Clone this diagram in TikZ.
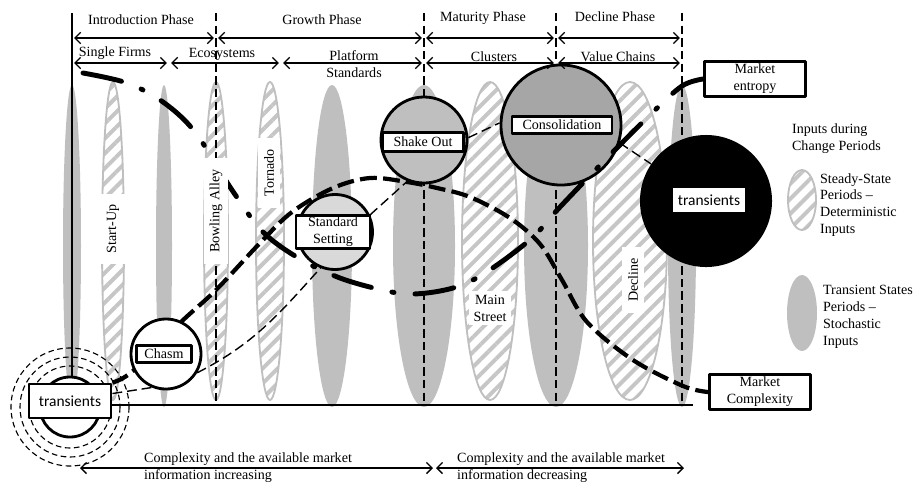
\documentclass[tikz,border=0pt]{standalone}
\usepackage{fontspec}
\setmainfont{Liberation Serif}
\newfontfamily\boxfont{Carlito}
\usetikzlibrary{arrows.meta,patterns.meta,positioning,calc}
\pgfdeclarelayer{background}
\pgfdeclarelayer{curves}
\pgfsetlayers{background,curves,main}

\begin{document}
\begin{tikzpicture}[x=0.025cm, y=-0.025cm,
       >={Straight Barb[length=4pt,width=8pt]}, line join=round,
       every node/.style={font=\fontsize{10}{12}\selectfont, inner sep=2pt},
       transient/.style={fill=gray!50},
       steady/.style={draw=gray!50, line width=1.3pt, preaction={fill=white},
                      pattern={Lines[angle=45,distance=7.5pt,line width=2.8pt]},
                      pattern color=gray!45},
       spanarrow/.style={<->, line width=0.9pt},
       phaseline/.style={line width=1.6pt, dash pattern=on 6pt off 3pt},
       ringline/.style={line width=0.8pt, dash pattern=on 4pt off 2.5pt},
       stage/.style={circle, draw, line width=2pt},
       stagebox/.style={draw, line width=2pt, fill=white, inner sep=1pt, align=center},
       marketbox/.style={draw, line width=2pt, fill=white, minimum width=25.3mm,
                         minimum height=8.8mm, align=center},
       sidelabel/.style={rotate=90, fill=white, inner xsep=8pt, inner ysep=4pt},
       cplxline/.style={line width=3pt, dash pattern=on 12pt off 4.5pt},
       entline/.style={line width=3.5pt, line cap=round,
                       dash pattern=on 28pt off 15pt on 1.5pt off 15pt},
       link/.style={line width=1pt, dash pattern=on 7pt off 3.5pt}]

	\useasboundingbox (0,0) rectangle (913,482);

	%% Phase boundaries (tops, bottoms and the two rows of spans)
	\foreach \x [count=\i] in {72,216,424,556,682}
		{\coordinate (top\i) at (\x,13);
		 \coordinate (bot\i) at (\x,405);
		 \coordinate (ph\i) at (\x,38);}
	\foreach \x [count=\i] in {72,169,281,424,556,682}
		{\coordinate (st\i) at (\x,63);}
	\coordinate (baseend) at (693,405);

	%% Transients at the start
	\node[stage, fill=white, minimum size=15mm] (startcirc) at (70,407) {};
	\foreach \r in {41,50,59}
		{\draw[ringline] (startcirc.center) circle [radius=\r];}
	\node[marketbox, minimum width=20.5mm, minimum height=8.5mm,
	      font=\boxfont\fontsize{11}{13}\selectfont] (startbox) at (70,401) {transients};

	%% Stages of the market
	\node[stage, fill=white, minimum size=17.5mm] (chasm) at (166,354) {};
	\node[stage, fill=gray!30, minimum size=18.75mm] (stdset) at (335,232) {};
	\node[stage, fill=gray!50, minimum size=21.5mm] (shakeout) at (424,140) {};
	\node[stage, fill=gray!70, minimum size=30mm] (consol) at (561,125) {};
	\node[circle, fill=black, minimum size=33mm] (endcirc) at (706,201) {};

	\node[stagebox, minimum width=13.8mm, minimum height=4.1mm] (chasmbox) at (164,354) {Chasm};
	\node[stagebox, minimum width=18.5mm, minimum height=8.1mm] (stdsetbox) at (333,232) {Standard\\Setting};
	\node[stagebox, minimum width=20.3mm, minimum height=4.6mm] (shakeoutbox) at (423,142) {Shake Out};
	\node[stagebox, minimum width=25mm, minimum height=4.3mm] (consolbox) at (562,125) {Consolidation};
	\node[fill=white, minimum width=18mm, minimum height=6.2mm,
	      font=\boxfont\fontsize{11}{13}\selectfont] (endbox) at (709,200) {transients};

	%% Curve labels
	\node[marketbox] (entropy) at (755,79) {Market\\entropy};
	\node[marketbox] (complexity) at (760,392) {Market\\Complexity};

	%% Input periods and boundaries behind everything
	\begin{pgfonlayer}{background}
		\foreach \cx/\hw in {113/11,216/12,270/14,490/28,630/37}
			{\draw[steady] (\cx,241) ellipse [x radius=\hw, y radius=159];}
		\foreach \cx/\hw in {72/9,164/8,332/20,424/31,556/32,682/14}
			{\fill[transient] (\cx,246) ellipse [x radius=\hw, y radius=161];}
		\draw[line width=2pt] (top1) -- (top1 |- startcirc.north);
		\foreach \i in {2,...,5}
			{\draw[phaseline] (top\i) -- (bot\i);}
		\draw[line width=1.5pt] (startbox.east |- bot1) -- (baseend);
	\end{pgfonlayer}

	%% Market complexity and the path of the stages
	\begin{pgfonlayer}{curves}
		\draw[cplxline] plot[smooth, tension=0.55] coordinates {(startbox.north east)
			(133,371) (180,323) (216,290) (260,243) (292,212) (333,188) (370,178)
			(407,182) (437,188) (470,197) (510,218) (540,244) (562,280) (587,322)
			(633,360) (683,386) (complexity.west)};
		\draw[link] (startbox.10) -- (chasm.247);
		\draw[link] (chasm.-31) to[out=27, in=228] (stdset.248);
		\draw[link] (stdset.26) -- (shakeout.248);
		\draw[link] (shakeout.3) -- (consol.178);
		\draw[link] (consol.-17) -- (endcirc.146);
	\end{pgfonlayer}

	%% Market entropy
	\coordinate (entstart) at (83,73);
	\draw[entline] plot[smooth, tension=0.55] coordinates {(entstart)
		(127,83) (163,102) (195,132) (232,190) (263,232) (300,259) (340,278)
		(382,290) (410,294) (440,291) (467,283) (497,265) (533,237) (560,207)
		(607,158) (652,113) (682,86) (entropy.west)};

	%% Names of the periods
	\node[sidelabel] (startup) at (113,229) {Start-Up};
	\node[sidelabel] (bowling) at (216,211) {Bowling Alley};
	\node[sidelabel] (tornado) at (269,173) {Tornado};
	\node[sidelabel] (declinelabel) at (633,280) {Decline};
	\node[fill=white, align=center, inner sep=3pt] (mainstreet) at (490,308) {Main\\Street};

	%% Phases and market structures
	\foreach \i [remember=\i as \last (initially 1)] in {2,...,5}
		{\draw[spanarrow, shorten <=1.5pt, shorten >=1.5pt] (ph\last) -- (ph\i);}
	\foreach \i [remember=\i as \last (initially 1)] in {2,...,6}
		{\draw[spanarrow, shorten <=1.5pt, shorten >=1.5pt] (st\last) -- (st\i);}
	\node (intro) at (141,20) {Introduction Phase};
	\node (growth) at (322,20) {Growth Phase};
	\node (maturity) at (483,18) {Maturity Phase};
	\node (declinephase) at (615,17) {Decline Phase};
	\node (singlefirms) at (115,53) {Single Firms};
	\node (ecosystems) at (222,54) {Ecosystems};
	\node[align=center] (platform) at (354,64) {Platform\\Standards};
	\node (clusters) at (494,57) {Clusters};
	\node (valuechains) at (618,57) {Value Chains};

	%% Available information
	\coordinate (inc1) at (80,468);
	\coordinate (inc2) at (433,468);
	\coordinate (dec1) at (436,468);
	\coordinate (dec2) at (684,468);
	\draw[spanarrow] (inc1) -- (inc2);
	\draw[spanarrow] (dec1) -- (dec2);
	\node[align=left] (increase) at (248,468) {Complexity and the available market\\information increasing};
	\node[align=left] (decrease) at (561,468) {Complexity and the available market\\information decreasing};

	%% Legend
	\draw[steady] (802,200) ellipse [x radius=14, y radius=30];
	\fill[transient] (802,313) ellipse [x radius=15, y radius=38];
	\node[anchor=west, align=left] (legtitle) at (789,139) {Inputs during\\Change Periods};
	\node[anchor=west, align=left] (legsteady) at (817,205) {Steady-State\\Periods --\\Deterministic\\Inputs};
	\node[anchor=west, align=left] (legtrans) at (820,317) {Transient States\\Periods --\\Stochastic\\Inputs};
\end{tikzpicture}
\end{document}
